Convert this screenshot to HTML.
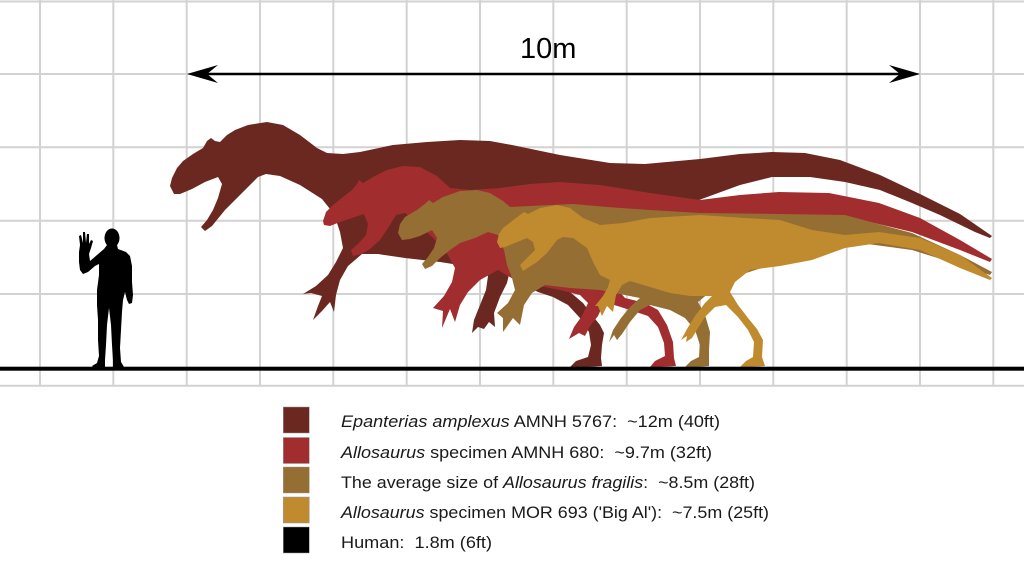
<!DOCTYPE html>
<html><head><meta charset="utf-8"><style>
html,body{margin:0;padding:0;background:#fff;}
svg{display:block;}
</style></head><body>
<svg width="1024" height="576" viewBox="0 0 1024 576" xmlns="http://www.w3.org/2000/svg">
<rect width="1024" height="576" fill="#fff"/>
<g stroke="#d2d2d2" stroke-width="2" fill="none">
<line x1="40" y1="0" x2="40" y2="386"/>
<line x1="113.3" y1="0" x2="113.3" y2="386"/>
<line x1="186.7" y1="0" x2="186.7" y2="386"/>
<line x1="260" y1="0" x2="260" y2="386"/>
<line x1="333.3" y1="0" x2="333.3" y2="386"/>
<line x1="406.7" y1="0" x2="406.7" y2="386"/>
<line x1="480" y1="0" x2="480" y2="386"/>
<line x1="553.3" y1="0" x2="553.3" y2="386"/>
<line x1="626.7" y1="0" x2="626.7" y2="386"/>
<line x1="700" y1="0" x2="700" y2="386"/>
<line x1="773.3" y1="0" x2="773.3" y2="386"/>
<line x1="846.7" y1="0" x2="846.7" y2="386"/>
<line x1="920" y1="0" x2="920" y2="386"/>
<line x1="993.3" y1="0" x2="993.3" y2="386"/>
<line x1="0" y1="1.5" x2="1024" y2="1.5"/>
<line x1="0" y1="74" x2="1024" y2="74"/>
<line x1="0" y1="147.3" x2="1024" y2="147.3"/>
<line x1="0" y1="220.7" x2="1024" y2="220.7"/>
<line x1="0" y1="294" x2="1024" y2="294"/>
<line x1="0" y1="385.7" x2="1024" y2="385.7"/>
</g>

<!-- Epanterias -->
<path fill="#6b2820" d="M170,186 L172,178 L177,168 L183,161 L193,154 L203,148 L207,141 L211,138 L215,141 L220,142 L227,135 L235,130 L248,125 L267,122 L283,125 L300,135 L317,148 L327,153 L343,154 L360,152 L393,145 L427,142 L460,140 L490,141 L512,145 L560,155 L610,163 L645,164 L700,159 L740,154 L772,152 L805,153 L840,160 L880,175 L920,194 L960,214 L992,236 L990,238 L975,232 L940,215 L912,203 L880,190 L845,182 L810,177 L772,177 L740,185 L699,200 L650,215 L600,230 L570,250 L545,268 L555,283 L570,292 L583,303 L592,315 L600,325 L604,333 L602,345 L601,358 L602,366 L588,367 L570,367 L576,361 L588,357 L591,345 L589,332 L580,318 L568,305 L553,297 L538,292 L520,283 L510,270 L507,283 L500,297 L494,313 L495,327 L489,322 L484,329 L478,327 L472,333 L474,320 L480,305 L486,290 L488,276 L478,268 L440,262 L405,258 L378,254 L362,254 L348,266 L340,280 L336,295 L334,312 L330,302 L322,311 L313,320 L318,306 L322,296 L311,293 L303,294 L316,286 L328,275 L336,262 L343,248 L340,232 L334,214 L322,199 L300,185 L280,176 L266,174 L258,177 L240,195 L225,210 L212,226 L205,231 L201,227 L207,220 L213,210 L218,198 L222,184 L218,177 L205,182 L192,189 L180,194 L174,194 Z"/>

<!-- Allosaurus AMNH 680 -->
<path fill="#a12d2f" d="M323,221 L326,212 L333,205 L343,197 L352,190 L357,184 L359,180 L363,183 L373,177 L387,170 L403,166 L420,167 L437,176 L450,188 L470,190 L500,188 L530,184 L560,182 L600,185 L650,193 L700,200 L740,195 L779,192 L829,193 L879,203 L920,218 L960,240 L992,259 L990,262 L960,250 L912,232 L870,222 L830,220 L779,222 L712,225 L660,232 L620,250 L600,270 L625,298 L645,303 L658,310 L667,325 L673,342 L674,358 L676,366 L660,367 L650,367 L655,361 L665,356 L664,343 L658,327 L648,316 L630,310 L608,303 L603,305 L598,316 L590,326 L585,336 L579,333 L569,339 L574,327 L582,316 L588,303 L580,295 L560,290 L535,285 L515,280 L498,270 L480,280 L468,292 L460,305 L455,322 L450,309 L442,328 L443,311 L433,308 L444,296 L452,282 L455,268 L445,250 L430,235 L415,222 L405,213 L396,215 L388,228 L380,240 L370,249 L362,254 L353,256 L351,250 L358,244 L366,235 L368,224 L364,214 L352,218 L340,222 L330,226 L324,225 Z"/>

<!-- Allosaurus fragilis average -->
<path fill="#956e33" d="M398,233 L400,224 L405,217 L417,210 L426,203 L429,200 L433,203 L443,197 L460,191 L477,190 L490,193 L503,201 L510,207 L530,206 L550,205 L573,204 L607,207 L650,210 L700,213 L780,214 L845,215 L912,233 L960,255 L992,272 L990,275 L960,265 L912,250 L860,243 L820,250 L780,262 L740,275 L715,288 L698,302 L705,315 L710,332 L709,350 L709,366 L697,367 L685,367 L691,361 L699,357 L700,345 L695,330 L685,318 L670,310 L650,305 L640,310 L630,322 L622,334 L617,340 L614,335 L609,342 L613,330 L621,318 L630,307 L640,298 L600,290 L570,288 L545,285 L532,293 L524,305 L520,325 L513,318 L503,332 L503,318 L497,313 L508,303 L515,290 L512,278 L507,265 L504,250 L498,235 L488,232 L475,238 L460,243 L450,250 L440,258 L432,266 L425,269 L422,264 L428,257 L434,248 L437,238 L432,230 L420,236 L410,239 L402,240 Z"/>

<!-- Big Al -->
<path fill="#c08a2f" d="M497,242 L499,234 L503,228 L512,221 L520,215 L524,212 L528,214 L540,208 L557,205 L570,208 L583,218 L600,225 L623,223 L650,218 L700,215 L745,218 L780,220 L812,230 L845,235 L879,232 L920,238 L960,255 L992,278 L990,280 L960,268 L920,250 L879,243 L845,248 L812,260 L780,266 L750,270 L735,282 L730,292 L738,305 L748,318 L757,329 L763,340 L762,357 L765,366 L752,367 L740,367 L746,361 L753,357 L754,342 L748,330 L738,317 L726,305 L715,307 L705,317 L698,328 L692,338 L686,342 L687,336 L681,340 L687,329 L695,316 L705,303 L712,296 L690,296 L670,293 L650,287 L630,281 L622,285 L616,295 L613,312 L607,306 L602,316 L598,306 L595,306 L603,296 L608,287 L610,280 L600,275 L593,262 L587,248 L573,238 L563,237 L557,240 L547,253 L537,262 L523,271 L520,265 L527,258 L535,250 L533,242 L527,238 L515,243 L505,247 L500,248 Z"/>

<!-- Human -->
<ellipse cx="112" cy="238" rx="7.5" ry="9.5" fill="#000"/>
<path fill="#000" d="M107,245 L104,249 L97,255 L90,261 L89,254 L91,248 L93,241 L91,240 L89,244 L89,234 L87,234 L86,243 L85,232 L83,232 L83,243 L81,235 L79,236 L80,245 L79,252 L79,262 L80,270 L83,274 L88,272 L95,266 L99,264 L99,275 L97,290 L97,305 L98,320 L98,340 L99,356 L97,363 L92,366 L93,367 L105,367 L105,360 L106,345 L107,325 L109,308 L111,325 L112,345 L113,360 L113,367 L124,367 L121,362 L120,348 L121,330 L122,312 L123,300 L125,292 L127,300 L129,304 L132,303 L133,295 L132,282 L132,266 L130,256 L126,252 L118,249 L117,245 Z"/>

<!-- ground -->
<rect x="0" y="366.7" width="1024" height="4" fill="#000"/>

<!-- 10m arrow -->
<line x1="200" y1="74" x2="908" y2="74" stroke="#000" stroke-width="2.6"/>
<path d="M187,74 L218,65 L207,74 L218,83 Z" fill="#000"/>
<path d="M920,74 L889,65 L900,74 L889,83 Z" fill="#000"/>
<text x="520" y="58" font-family="Liberation Sans, sans-serif" font-size="29" fill="#000">10m</text>

<!-- legend -->
<g stroke="#999" stroke-width="0.5">
<rect x="283.3" y="407" width="26" height="26" fill="#6b2820"/>
<rect x="283.3" y="437.5" width="26" height="26" fill="#a12d2f"/>
<rect x="283.3" y="467" width="26" height="26" fill="#956e33"/>
<rect x="283.3" y="497" width="26" height="26" fill="#c08a2f"/>
<rect x="283.3" y="527" width="26" height="26" fill="#000"/>
</g>
<g font-family="Liberation Sans, sans-serif" font-size="16.5" fill="#1a1a1a">
<text x="341" y="427" textLength="379" lengthAdjust="spacingAndGlyphs"><tspan font-style="italic">Epanterias amplexus</tspan> AMNH 5767:&#160; ~12m (40ft)</text>
<text x="341" y="458" textLength="371" lengthAdjust="spacingAndGlyphs"><tspan font-style="italic">Allosaurus</tspan> specimen AMNH 680:&#160; ~9.7m (32ft)</text>
<text x="341" y="488" textLength="414" lengthAdjust="spacingAndGlyphs">The average size of <tspan font-style="italic">Allosaurus fragilis</tspan>:&#160; ~8.5m (28ft)</text>
<text x="341" y="518" textLength="428" lengthAdjust="spacingAndGlyphs"><tspan font-style="italic">Allosaurus</tspan> specimen MOR 693 ('Big Al'):&#160; ~7.5m (25ft)</text>
<text x="341" y="548" textLength="151" lengthAdjust="spacingAndGlyphs">Human:&#160; 1.8m (6ft)</text>
</g>
</svg>
</body></html>
